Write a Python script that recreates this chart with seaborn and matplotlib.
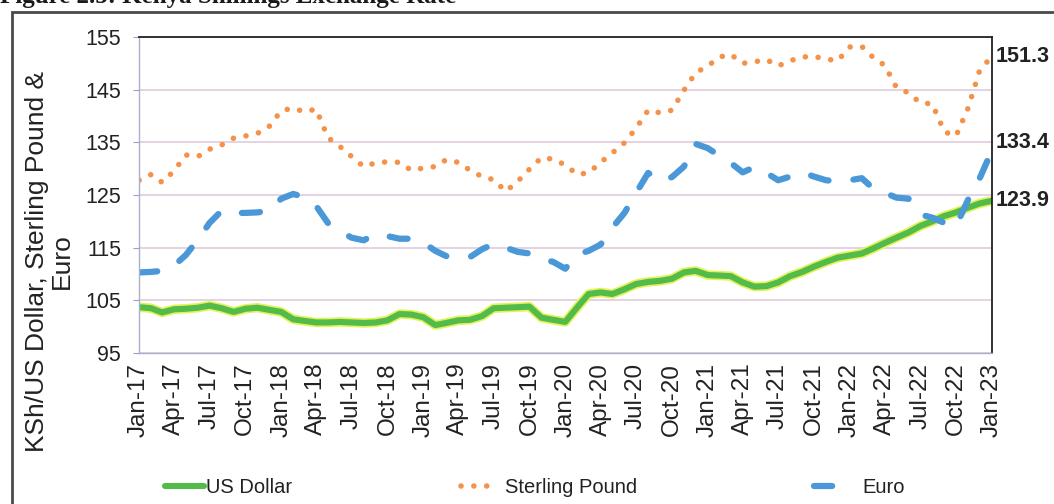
import numpy as np
import pandas as pd
import matplotlib.pyplot as plt
import matplotlib.dates as mdates
from matplotlib.patches import Rectangle
import seaborn as sns

# monthly KSh exchange rates, Jan-17 .. Jan-23
DATES = pd.date_range("2017-01-01", "2023-01-01", freq="MS")

US_DOLLAR = [
    103.7, 103.5, 102.7, 103.3, 103.4, 103.6, 104.0, 103.5, 102.8, 103.4, 103.6, 103.2,
    102.8, 101.4, 101.1, 100.8, 100.8, 100.9, 100.8, 100.7, 100.8, 101.2, 102.4, 102.3,
    101.8, 100.3, 100.7, 101.2, 101.3, 102.0, 103.5, 103.6, 103.7, 103.8, 101.7, 101.3,
    100.9, 103.7, 106.2, 106.5, 106.2, 107.1, 108.1, 108.5, 108.7, 109.1, 110.3, 110.6,
    109.8, 109.7, 109.6, 108.4, 107.6, 107.7, 108.4, 109.6, 110.4, 111.4, 112.3, 113.1,
    113.5, 113.9, 114.8, 115.9, 116.9, 117.9, 119.1, 120.0, 121.0, 121.7, 122.6, 123.4,
    123.9,
]
STERLING = [
    127.8, 128.9, 127.4, 129.6, 132.6, 132.3, 133.7, 134.5, 135.8, 136.2, 136.7, 138.0,
    141.0, 141.5, 140.8, 141.3, 135.9, 134.2, 132.3, 130.4, 131.1, 131.3, 131.2, 129.7,
    130.1, 130.4, 131.7, 131.2, 129.7, 128.5, 127.9, 125.7, 127.6, 129.9, 132.1, 131.8,
    130.7, 128.9, 129.2, 131.2, 133.0, 134.9, 137.7, 141.1, 140.6, 141.1, 144.9, 148.2,
    149.5, 151.2, 151.7, 150.0, 150.3, 150.7, 149.5, 150.5, 151.2, 151.3, 150.8, 150.5,
    153.1, 153.2, 151.2, 149.6, 145.4, 144.4, 142.5, 142.3, 137.0, 136.2, 141.5, 148.7,
    151.3,
]
EURO = [
    110.3, 110.4, 110.6, 111.6, 113.6, 116.5, 119.7, 122.0, 121.6, 121.6, 121.7, 122.0,
    124.3, 125.2, 124.6, 122.9, 119.7, 118.1, 116.9, 116.4, 117.6, 117.2, 116.7, 116.7,
    116.0, 114.4, 113.4, 113.4, 113.2, 114.7, 115.7, 115.0, 114.2, 113.9, 112.9, 112.3,
    111.0, 113.7, 114.4, 115.6, 118.8, 121.6, 125.4, 129.2, 127.6, 128.4, 130.4, 134.7,
    133.9, 132.4, 131.1, 129.3, 130.3, 129.2, 127.8, 128.5, 129.3, 128.5, 127.8, 127.6,
    127.8, 128.2, 126.3, 125.4, 124.5, 124.3, 121.3, 120.7, 119.7, 119.1, 124.1, 128.2,
    133.4,
]
Y_TICKS = [95, 105, 115, 125, 135, 145, 155]

sns.set_style("white")
plt.rcParams["font.family"] = ["Liberation Sans", "DejaVu Sans"]

df = pd.DataFrame(
    {"date": DATES, "US Dollar": US_DOLLAR, "Sterling Pound": STERLING, "Euro": EURO}
)

fig = plt.figure(figsize=(10.54, 5.04), dpi=100)
ax = fig.add_axes([0.132, 0.2996, 0.809, 0.627])

# USD: yellowish glow under a green line
sns.lineplot(data=df, x="date", y="US Dollar", ax=ax, color="#e4f25a", lw=6.8,
             legend=False, solid_capstyle="round")
sns.lineplot(data=df, x="date", y="US Dollar", ax=ax, color="#52bb4a", lw=4.4,
             label="US Dollar", solid_capstyle="round")
sns.lineplot(data=df, x="date", y="Sterling Pound", ax=ax, color="#f5924a", lw=4.0,
             linestyle=(0, (0.01, 2.3)), dash_capstyle="round", label="Sterling Pound")
sns.lineplot(data=df, x="date", y="Euro", ax=ax, color="#4a98d8", lw=4.5,
             linestyle=(0, (2.9, 4.0)), dash_capstyle="round", label="Euro")

ax.set_xlim(DATES[0], DATES[-1])
ax.set_ylim(95, 155)
ax.set_yticks(Y_TICKS)
ax.xaxis.set_major_locator(mdates.MonthLocator(bymonth=[1, 4, 7, 10]))
ax.xaxis.set_major_formatter(mdates.DateFormatter("%b-%y"))
ax.tick_params(axis="x", labelrotation=90, labelsize=17.5, length=4, pad=3,
               color="#9aa0c0", labelcolor="#222222")
ax.tick_params(axis="y", labelsize=15.5, length=4, pad=9, left=True,
               color="#9aa0c0", labelcolor="#222222")
ax.yaxis.grid(True, color="#dcc8d8", lw=1.1)
ax.xaxis.grid(False)
for side in ["left", "bottom"]:
    ax.spines[side].set_color("#a8b0cc")
    ax.spines[side].set_linewidth(1)
for side in ["top", "right"]:
    ax.spines[side].set_color("#222222")
    ax.spines[side].set_linewidth(1.3)

ax.set_xlabel("")
ax.set_ylabel("KSh/US Dollar, Sterling Pound &\nEuro", fontsize=19, color="#222222",
              linespacing=1.05)
ax.yaxis.set_label_coords(-0.077, 0.29)

# end-of-series value labels
for series, dy in [(STERLING, 0), (EURO, 6), (US_DOLLAR, 0)]:
    ax.annotate(f"{series[-1]:.1f}", xy=(DATES[-1], series[-1]), xytext=(3, dy),
                textcoords="offset points", va="center", ha="left", fontsize=15.5,
                fontweight="bold", color="#222222", annotation_clip=False)

# legend split into three pieces to match the spread-out layout
handles, labels = ax.get_legend_handles_labels()
ax.get_legend().remove()
specs = [(0.157, 1.9, 0.1), (0.437, 1.5, 0.7), (0.772, 1.2, 1.2)]
for h, l, (x0, hl, tp) in zip(handles, labels, specs):
    leg = fig.legend([h], [l], loc="center left", bbox_to_anchor=(x0, 0.032),
                     frameon=False, fontsize=14.5, handlelength=hl,
                     handletextpad=tp, borderpad=0, borderaxespad=0)
    for t in leg.get_texts():
        t.set_color("#222222")

# chart-area frame and cut-off figure caption from the scanned page
fig.add_artist(Rectangle((0.0114, -0.2), 1.5, 0.976 + 0.2, transform=fig.transFigure,
                         fill=False, ec="#4a4a4a", lw=2))
fig.text(0.0, 0.995, "Figure 2.5: Kenya Shillings Exchange Rate",
         family="Liberation Serif", fontweight="bold", fontsize=18, va="baseline",
         color="#1a1a1a")

fig.savefig("out.png", dpi=100)
plt.close(fig)
